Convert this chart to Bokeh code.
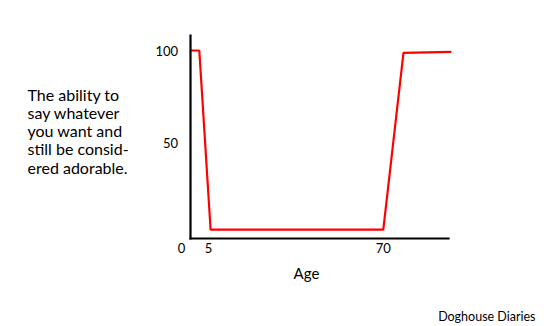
from bokeh.plotting import figure
from bokeh.models import Label, FixedTicker, Range1d, LinearAxis
from bokeh.embed import file_html
from bokeh.resources import INLINE

# ---- data ----
ages = [-2, 1.6, 5.8, 70, 77.5, 95.3]
ability = [100, 100, 2.6, 2.6, 98.7, 99.3]
x_ticks = [5, 70]
y_ticks = [50, 100]
caption_lines = ["The ability to", "say whatever", "you want and",
                 "still be consid-", "ered adorable."]
x_title = "Age"
origin_label = "0"
credit = "Doghouse Diaries"

FONT = "Lato"
W, H = 550, 326

# pixel <-> data layout constants (frame covers the whole canvas)
X0_PX, KX = 194.5, 2.69      # pixel of x=0, px per year
Y100_PX, KY = 50.0, 1.84     # pixel (from top) of y=100, px per unit

def xd(px):
    return (px - X0_PX) / KX

def yd(py):
    return 100 - (py - Y100_PX) / KY

p = figure(width=W, height=H, output_backend="svg", toolbar_location=None,
           x_range=Range1d(xd(0), xd(W)), y_range=Range1d(yd(H), yd(0)),
           x_axis_location=None, y_axis_location=None,
           min_border=0, min_border_left=0, min_border_right=0,
           min_border_top=0, min_border_bottom=0)
p.outline_line_color = None
p.xgrid.visible = False
p.ygrid.visible = False

axis_x_left, axis_x_right = xd(189.5), xd(448)
axis_y_bottom, axis_y_top = yd(238), yd(35)

xaxis = LinearAxis(fixed_location=axis_y_bottom, bounds=(axis_x_left, axis_x_right),
                   ticker=FixedTicker(ticks=x_ticks))
yaxis = LinearAxis(fixed_location=axis_x_left, bounds=(axis_y_bottom, axis_y_top),
                   ticker=FixedTicker(ticks=y_ticks))
for ax in (xaxis, yaxis):
    ax.axis_line_width = 2.2
    ax.axis_line_color = "black"
    ax.axis_line_cap = "square"
    ax.major_tick_line_color = None
    ax.minor_tick_line_color = None
    ax.major_label_text_font = FONT
    ax.major_label_text_font_size = "13px"
    ax.major_label_text_color = "black"
xaxis.major_label_standoff = -2
yaxis.major_label_standoff = 6
p.add_layout(xaxis, "below")
p.add_layout(yaxis, "left")

p.line(ages, ability, line_color="#ff0000", line_width=2.2)

def add_text(px, py, text, size, align="left", baseline="middle"):
    p.add_layout(Label(x=px, y=H - py, x_units="screen", y_units="screen", text=text,
                       text_font=FONT, text_font_size=size, text_align=align,
                       text_baseline=baseline, text_color="black"))

add_text(181, 247, origin_label, "13px", align="center")
add_text(306, 272, x_title, "15px", align="center")
for i, line in enumerate(caption_lines):
    add_text(27, 93.5 + i * 18.3, line, "16px")
add_text(535, 316, credit, "12.5px", align="right")

open("out.html", "w").write(file_html(p, INLINE))
